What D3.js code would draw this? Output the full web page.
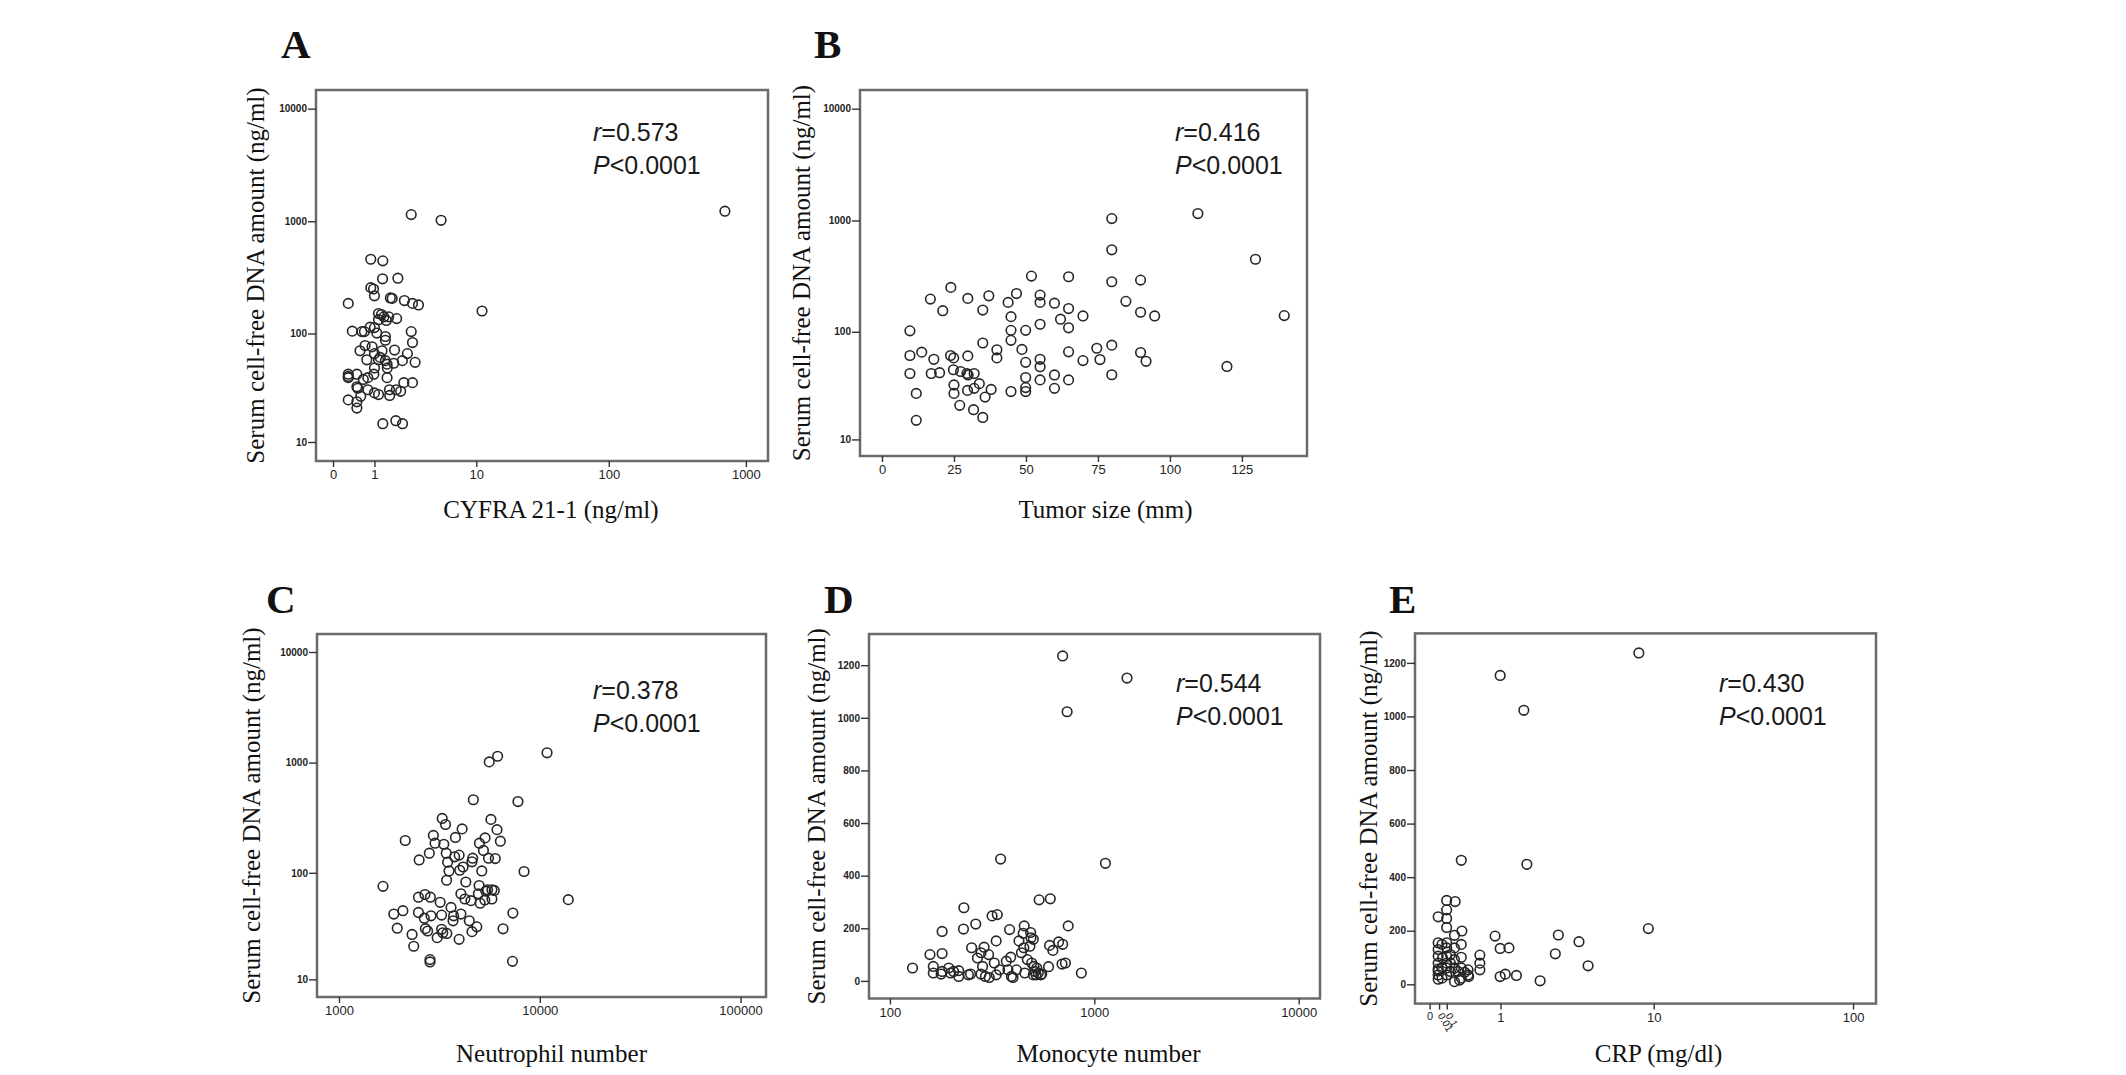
<!DOCTYPE html>
<html>
<head>
<meta charset="utf-8">
<script src="https://cdn.jsdelivr.net/npm/d3@7"></script>
<style>
  body { margin: 0; background: #fff; }
</style>
</head>
<body>
<svg id="chart" width="2126" height="1075"></svg>
<script>
/* ---- data ---- */
const cyfraX = [2.7, 5.1, 704, 11.1, 0.29, 0.88, 1.3, 1.29, 1.96, 0.88, 0.97, 1.0, 1.61, 1.69, 2.3, 2.78, 3.18, 1.14, 1.25, 1.34,
  1.54, 1.9, 1.14, 1.44, 0.38, 0.62, 0.69, 0.86, 1.0, 1.08, 2.7, 1.4, 1.4, 2.78, 0.71, 0.92, 0.57, 1.8, 1.0, 1.27,
  2.47, 0.76, 1.14, 1.2, 1.4, 1.47, 1.76, 2.19, 2.95, 0.29, 0.29, 0.49, 0.79, 0.98, 1.0, 1.47, 0.49, 0.51, 0.79, 1.0,
  1.14, 1.57, 1.58, 1.88, 2.1, 2.27, 2.78, 0.29, 0.49, 0.59, 0.49, 1.3, 1.86, 2.2, 0.66, 0.29, 1.48];
const cyfraY = [1147, 1020, 1230, 159, 186, 460, 445, 308, 312, 257, 250, 217, 208, 206, 197, 186, 180, 151, 148, 141,
  141, 136, 133, 131, 105, 104, 104, 114, 113, 101, 104, 94, 87, 83, 78, 76, 70, 71, 66, 70,
  66, 58, 58, 61, 57, 53, 54, 57, 55, 41, 40, 43, 40, 43, 49, 40, 33, 32, 31, 29,
  28, 31, 27.5, 31, 30, 36, 36, 25, 24, 27, 21, 15, 16, 15, 38.5, 43, 49];

const tumorX = [9.7, 9.7, 9.7, 11.9, 11.9, 13.8, 16.8, 17.1, 18, 20, 21.1, 23.9, 23.8, 24.9, 24.8, 25, 25, 27, 27.3, 29.8,
  29.8, 29.5, 29.9, 29.7, 32, 31.8, 33.8, 32, 35, 35, 35, 35.8, 37.1, 37.9, 39.9, 39.9, 43.8, 44.8, 44.8, 44.8,
  44.8, 46.7, 48.6, 49.9, 49.9, 49.9, 49.9, 49.9, 51.9, 54.9, 54.9, 54.9, 54.9, 54.9, 54.9, 59.9, 59.9, 59.9, 62, 64.8,
  64.8, 64.8, 64.8, 64.8, 69.8, 69.8, 74.6, 75.7, 79.8, 79.8, 79.8, 79.8, 79.8, 84.7, 89.8, 89.8, 89.8, 91.7, 94.7, 109.7,
  119.8, 129.7, 139.7];
const tumorY = [102, 61, 41.8, 27.4, 15.3, 65.4, 197, 41.8, 56.3, 42.5, 155, 251, 61, 58, 45.2, 32.8, 27.4, 21.2, 43.6, 200,
  60.5, 41.8, 40.5, 29.2, 41.8, 19.3, 33.7, 30.5, 157, 79.2, 16.3, 25.3, 211, 29.8, 68.7, 58, 184, 137, 103, 83.7,
  28.5, 221, 69.3, 103, 52.8, 38.4, 31, 28.5, 317, 214, 184, 117, 56.3, 48.2, 36.5, 181, 40.5, 30.5, 130, 313,
  162, 108.6, 65.8, 36.5, 139, 54.8, 71, 56, 1039, 546, 282, 75.7, 40.7, 188, 292, 150, 64.9, 54, 139, 1153,
  48.5, 449, 140];

const neutroX = [1656, 1875, 1950, 2081, 2138, 2311, 2356, 2507, 2487, 2487, 2679, 2660, 2693, 2763, 2818, 2851, 2872, 2840, 2840, 2951,
  3008, 3082, 3190, 3243, 3243, 3266, 3289, 3393, 3327, 3420, 3435, 3443, 3475, 3532, 3614, 3698, 3724, 3767, 3800, 3966,
  3966, 4048, 4048, 3993, 4104, 4150, 4282, 4236, 4457, 4540, 4595, 4634, 4667, 4595, 4858, 4946, 4987, 5004, 5048, 5143,
  5241, 5340, 5324, 5384, 5555, 5495, 5600, 5711, 5776, 5776, 5934, 6002, 6123, 6168, 6364, 6561, 7313, 7345, 7786, 8350,
  10870, 13870];
const neutroY = [75.2, 41.8, 30.9, 44.9, 197, 27, 20.9, 131, 59.8, 43.3, 63.3, 38.3, 30.6, 29.1, 151, 59.8, 40.3, 15.6, 14.8, 219,
  186, 25.2, 53.7, 40.9, 30.2, 312, 28, 275, 182, 151, 85.5, 27.6, 125, 104, 48.2, 36.2, 40.3, 140, 210, 145,
  24.3, 64.3, 41.8, 105.6, 251, 113, 82.4, 57.6, 36.2, 55.6, 126, 136, 461, 28.7, 31.8, 64.3, 76.6, 186, 52.6, 104,
  160, 208, 56.4, 68, 136, 70, 1015, 306, 57.6, 70, 69, 135, 247, 1142, 194, 30.5, 15, 42.7, 444, 102.8,
  1226, 56.8];

const monoX = [700, 1445, 736, 1133, 348, 537, 609, 230, 316, 335, 263, 229, 180, 385, 454, 745, 331, 449, 488, 503,
  251, 289, 157, 180, 163, 194, 129, 178, 217, 205, 248, 279, 268, 284, 279, 304, 306, 324, 331, 344,
  371, 390, 393, 400, 416, 440, 452, 457, 470, 484, 494, 507, 513, 519, 523, 532, 547, 597, 604, 627,
  669, 700, 695, 722, 864, 163, 217, 242, 378, 293, 428, 490, 503, 553, 180, 198];
const monoY = [1235, 1151, 1023, 447, 463, 308, 312, 278, 247, 252, 216, 197, 188, 195, 209, 209, 152, 181, 184, 158,
  126, 128, 100, 104, 55, 49, 49, 26, 17, 36, 26, 107, 87, 55, 26, 100, 13, 68, 23, 42,
  75, 90, 17, 13, 42, 107, 126, 30, 81, 132, 68, 55, 36, 23, 49, 30, 23, 54, 135, 116,
  148, 139, 64, 68, 30, 30, 39, 23, 42, 17, 152, 164, 23, 26, 36, 30];

const crpX = [8.32, 0.993, 1.593, 0.293, 1.682, 9.36, 0.883, 0.993, 1.198, 2.807, 2.68, 3.79, 4.3, 0.993, 1.109, 1.388, 2.108, 0.59, 0.59, 0.59,
  0.302, 0.293, 0.293, 0.293, 0.394, 0.403, 0.293, 0.208, 0.099, 0.099, 0.099, 0.099, 0, 0, 0, 0, 0, 0, 0, 0,
  0.043, 0.043, 0.043, 0.099, 0.099, 0.099, 0.099, 0.099, 0.099, 0.146, 0.146, 0.199, 0.199, 0.199, 0.199, 0.199, 0.146, 0.05, 0.245, 0.269,
  0.342, 0.394, 0];
const crpY = [1237, 1153, 1023, 463, 448, 208, 180, 134, 136, 184, 114, 159, 69, 29, 38, 33, 13, 109, 79, 54,
  199, 149, 101, 61, 54, 29, 23, 309, 313, 278, 246, 212, 252, 155, 130, 105, 79, 57, 35, 19,
  149, 61, 23, 155, 136, 105, 79, 61, 35, 111, 48, 183, 136, 92, 61, 10, 79, 98, 48, 16,
  45, 35, 50];

const yLogTicks = [10, 100, 1000, 10000];
const yLinTicks = [0, 200, 400, 600, 800, 1000, 1200];
const cyfraTicks = [0, 1, 10, 100, 1000];
const tumorTicks = [0, 25, 50, 75, 100, 125];
const neutroTicks = [1000, 10000, 100000];
const monoTicks = [100, 1000, 10000];
const crpTicks = [-0.1, 0.01, 0.1, 1, 10, 100];
const crpTickLabels = ["0", "0.01", "0.1", "1", "10", "100"];

const panelLetters = ["A", "B", "C", "D", "E"];
const rValues = ["0.573", "0.416", "0.378", "0.544", "0.430"];
const pText = "<0.0001";
const xTitles = ["CYFRA 21-1 (ng/ml)", "Tumor size (mm)", "Neutrophil number", "Monocyte number", "CRP (mg/dl)"];
const yTitle = "Serum cell-free DNA amount (ng/ml)";

/* ---- layout of the five panels (pixels) ---- */
const panels = [
  { xs: cyfraX, ys: cyfraY, xType: "symlog", xDomain: [-0.33, 1449], xTicks: cyfraTicks,
    yType: "symlog", yDomain: [6.46, 14650], yTicks: yLogTicks,
    box: { l: 316, r: 768, t: 90, b: 461 }, letter: [281, 58], yLab: 264, xLabOff: 9, xLabY: 518, ann: [593, 141] },
  { xs: tumorX, ys: tumorY, xType: "linear", xDomain: [-7.64, 147.6], xTicks: tumorTicks,
    yType: "symlog", yDomain: [6.82, 14700], yTicks: yLogTicks,
    box: { l: 860, r: 1307, t: 90, b: 456 }, letter: [814, 58], yLab: 810, xLabOff: 22, xLabY: 518, ann: [1175, 141] },
  { xs: neutroX, ys: neutroY, xType: "log", xDomain: [777, 133900], xTicks: neutroTicks,
    yType: "symlog", yDomain: [6.62, 14550], yTicks: yLogTicks,
    box: { l: 317, r: 766, t: 634, b: 997 }, letter: [266, 613], yLab: 260, xLabOff: 10, xLabY: 1062, ann: [593, 699] },
  { xs: monoX, ys: monoY, xType: "log", xDomain: [79, 12710], xTicks: monoTicks,
    yType: "linear", yDomain: [-66.9, 1318.5], yTicks: yLinTicks,
    box: { l: 869, r: 1320, t: 634, b: 998.5 }, letter: [824, 613], yLab: 825, xLabOff: 14, xLabY: 1062, ann: [1176, 692] },
  { xs: crpX, ys: crpY, xType: "symlog", xDomain: [-0.294, 129.4], xTicks: crpTicks, xTickLabels: crpTickLabels,
    yType: "linear", yDomain: [-72, 1310], yTicks: yLinTicks,
    box: { l: 1415, r: 1876, t: 633.4, b: 1003.6 }, letter: [1389, 613], yLab: 1377, xLabOff: 13, xLabY: 1062, ann: [1719, 692] }
];

const svg = d3.select("#chart");
svg.append("rect").attr("width", 2126).attr("height", 1075).attr("fill", "#fff");

/*returns a d3 scale of the requested kind; symlog with constant 1 is log(1 + x)*/
function scaleOf(type, domain, range) {
  if (type === "symlog") return d3.scaleSymlog().constant(1).domain(domain).range(range);
  if (type === "log") return d3.scaleLog().domain(domain).range(range);
  return d3.scaleLinear().domain(domain).range(range);
}

panels.forEach((p, k) => {
  const b = p.box;
  const x = scaleOf(p.xType, p.xDomain, [b.l, b.r]);
  const y = scaleOf(p.yType, p.yDomain, [b.b, b.t]);
  const g = svg.append("g");

  /*frame around the plotting area*/
  g.append("rect")
    .attr("x", b.l)
    .attr("y", b.t)
    .attr("width", b.r - b.l)
    .attr("height", b.b - b.t)
    .attr("fill", "none")
    .attr("stroke", "#6a6a6a")
    .attr("stroke-width", 2.5);

  /*x axis*/
  const xAxis = d3
    .axisBottom(x)
    .tickValues(p.xTicks)
    .tickSize(6)
    .tickPadding(3)
    .tickFormat((d, i) => (p.xTickLabels ? p.xTickLabels[i] : String(d)));

  const xg = g
    .append("g")
    .attr("transform", "translate(0," + b.b + ")")
    .call(xAxis);
  xg.select(".domain").remove();
  xg.selectAll("line").attr("stroke", "#333").attr("stroke-width", 1.4);
  xg.selectAll("text")
    .style("font-family", "'Liberation Sans Narrow', 'Liberation Sans', Arial, sans-serif")
    .style("font-size", "13px")
    .attr("fill", "#222");

  /*the two tiny CRP labels next to zero are written slanted*/
  if (p.xTickLabels) {
    xg.selectAll(".tick text")
      .filter((d, i) => i === 1 || i === 2)
      .style("font-size", "10px")
      .attr("text-anchor", "start")
      .attr("dy", "0")
      .attr("transform", "translate(-2,12) rotate(60)")
      .attr("y", 0)
      .attr("x", 0);
    xg.selectAll(".tick text")
      .filter((d, i) => i === 0)
      .style("font-size", "11px");
  }

  /*y axis*/
  const yAxis = d3
    .axisLeft(y)
    .tickValues(p.yTicks)
    .tickSize(8)
    .tickPadding(1)
    .tickFormat(d => String(d));

  const yg = g
    .append("g")
    .attr("transform", "translate(" + b.l + ",0)")
    .call(yAxis);
  yg.select(".domain").remove();
  yg.selectAll("line").attr("stroke", "#333").attr("stroke-width", 1.4);
  yg.selectAll("text")
    .style("font-family", "'Liberation Sans', Arial, sans-serif")
    .style("font-size", "10px")
    .style("font-weight", "bold")
    .attr("fill", "#222");

  /*scatter points*/
  g.append("g")
    .selectAll("circle")
    .data(d3.zip(p.xs, p.ys))
    .enter()
    .append("circle")
    .attr("cx", d => x(d[0]))
    .attr("cy", d => y(d[1]))
    .attr("r", 4.8)
    .attr("fill", "none")
    .attr("stroke", "#262626")
    .attr("stroke-width", 1.6);

  /*panel letter*/
  g.append("text")
    .attr("x", p.letter[0])
    .attr("y", p.letter[1])
    .text(panelLetters[k])
    .style("font-family", "'Liberation Serif', 'Times New Roman', serif")
    .style("font-weight", "bold")
    .style("font-size", "41px")
    .attr("fill", "#111");

  /*axis titles*/
  g.append("text")
    .attr("x", (b.l + b.r) / 2 + p.xLabOff)
    .attr("y", p.xLabY)
    .attr("text-anchor", "middle")
    .text(xTitles[k])
    .style("font-family", "'Liberation Serif', 'Times New Roman', serif")
    .style("font-size", "25px")
    .attr("fill", "#111");

  g.append("text")
    .attr("transform", "translate(" + p.yLab + "," + (b.t + b.b) / 2 + ") rotate(-90)")
    .attr("text-anchor", "middle")
    .text(yTitle)
    .style("font-family", "'Liberation Serif', 'Times New Roman', serif")
    .style("font-size", "25px")
    .attr("fill", "#111");

  /*correlation note*/
  const note = g
    .append("g")
    .style("font-family", "'Liberation Sans', Arial, sans-serif")
    .style("font-size", "25px")
    .attr("fill", "#1a1a1a");

  const r1 = note.append("text").attr("x", p.ann[0]).attr("y", p.ann[1]);
  r1.append("tspan").style("font-style", "italic").text("r");
  r1.append("tspan").text("=" + rValues[k]);

  const r2 = note.append("text").attr("x", p.ann[0]).attr("y", p.ann[1] + 33);
  r2.append("tspan").style("font-style", "italic").text("P");
  r2.append("tspan").text(pText);
});
</script>
</body>
</html>
